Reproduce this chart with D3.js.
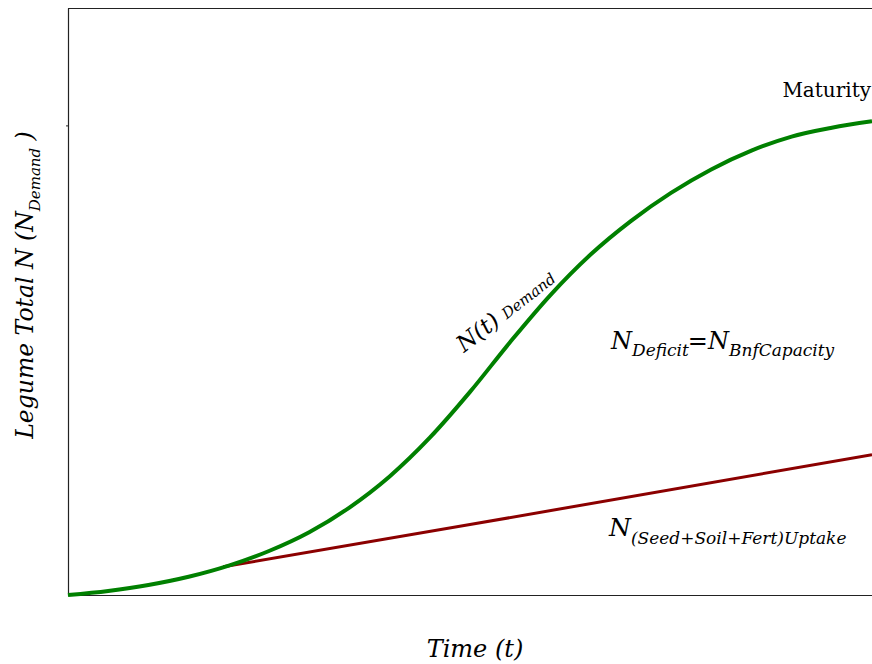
<!DOCTYPE html>
<html><head><meta charset="utf-8">
<script src="https://cdn.jsdelivr.net/npm/d3@7"></script>
<style>body{margin:0;background:#fff}svg{display:block}</style>
</head><body>
<script>
const demandTime = [0,5,10,15,20,25,30,35,40,45,50,55,60,65,70,75,80,85,90,95,100];
const demandN    = [0,0.7,1.7,3.1,5.0,7.5,10.7,14.9,20.2,26.8,34.6,43.1,51.1,58.0,63.7,68.5,72.5,75.7,78.1,79.6,80.7];
const uptakeTime = [19.3,50,100];
const uptakeN    = [4.8,12.0,23.9];
const yTicks = [80];

const W=872,H=664;
const FONT="DejaVu Serif, Liberation Serif, Times New Roman, serif";
const svg=d3.select("body").append("svg").attr("width",W).attr("height",H).style("font-family",FONT);
const x=d3.scaleLinear().domain([0,100]).range([68,872]);
const y=d3.scaleLinear().domain([0,100]).range([595,8]);

// frame
svg.append("line").attr("x1",68).attr("x2",880).attr("y1",8.5).attr("y2",8.5).attr("stroke","#222").attr("stroke-width",1.2);
svg.append("g").attr("transform","translate(0,595)").call(d3.axisBottom(x).tickValues([]).tickSizeOuter(0))
  .call(g=>g.select(".domain").attr("stroke","#222").attr("stroke-width",1.2));
svg.append("g").attr("transform","translate(68,0)").call(d3.axisLeft(y).tickValues(yTicks).tickSize(2).tickFormat("").tickSizeOuter(0))
  .call(g=>g.select(".domain").attr("stroke","#222").attr("stroke-width",1.2))
  .call(g=>g.selectAll(".tick line").attr("stroke","#222"));

const line=d3.line().x(d=>x(d[0])).y(d=>y(d[1]));
svg.append("path").datum(uptakeTime.map((t,i)=>[t,uptakeN[i]]))
  .attr("d",line).attr("fill","none").attr("stroke","#8b0000").attr("stroke-width",3);
svg.append("path").datum(demandTime.map((t,i)=>[t,demandN[i]]))
  .attr("d",line.curve(d3.curveMonotoneX)).attr("fill","none").attr("stroke","#008000").attr("stroke-width",4);

function T(sel){return sel.append("text").style("font-family",FONT);}

T(svg).attr("x",871).attr("y",97).attr("text-anchor","end").attr("font-size",20).text("Maturity");

const nt=T(svg).attr("transform","translate(464,353) rotate(-38)").attr("font-style","italic");
nt.append("tspan").attr("font-size",23).text("N(t)");
nt.append("tspan").attr("font-size",15).attr("dx",7).text("Demand");

const nd=T(svg).attr("x",611).attr("y",349).attr("font-style","italic");
nd.append("tspan").attr("font-size",24).text("N");
nd.append("tspan").attr("font-size",17).attr("dy",7).text("Deficit");
nd.append("tspan").attr("font-size",24).attr("dy",-7).attr("dx",-1).text("=N");
nd.append("tspan").attr("font-size",17).attr("dy",7).text("BnfCapacity");

const nu=T(svg).attr("x",609).attr("y",536).attr("font-style","italic");
nu.append("tspan").attr("font-size",25).text("N");
nu.append("tspan").attr("font-size",17).attr("dy",8).text("(Seed+Soil+Fert)Uptake");

const yl=T(svg).attr("transform","translate(33,285) rotate(-90)").attr("text-anchor","middle").attr("font-style","italic");
yl.append("tspan").attr("font-size",23.5).text("Legume Total N (N");
yl.append("tspan").attr("font-size",15).attr("dy",7).text("Demand");
yl.append("tspan").attr("font-size",23.5).attr("dy",-7).text(" )");

T(svg).attr("x",475).attr("y",657).attr("text-anchor","middle").attr("font-style","italic").attr("font-size",24).text("Time (t)");
</script>
</body></html>
